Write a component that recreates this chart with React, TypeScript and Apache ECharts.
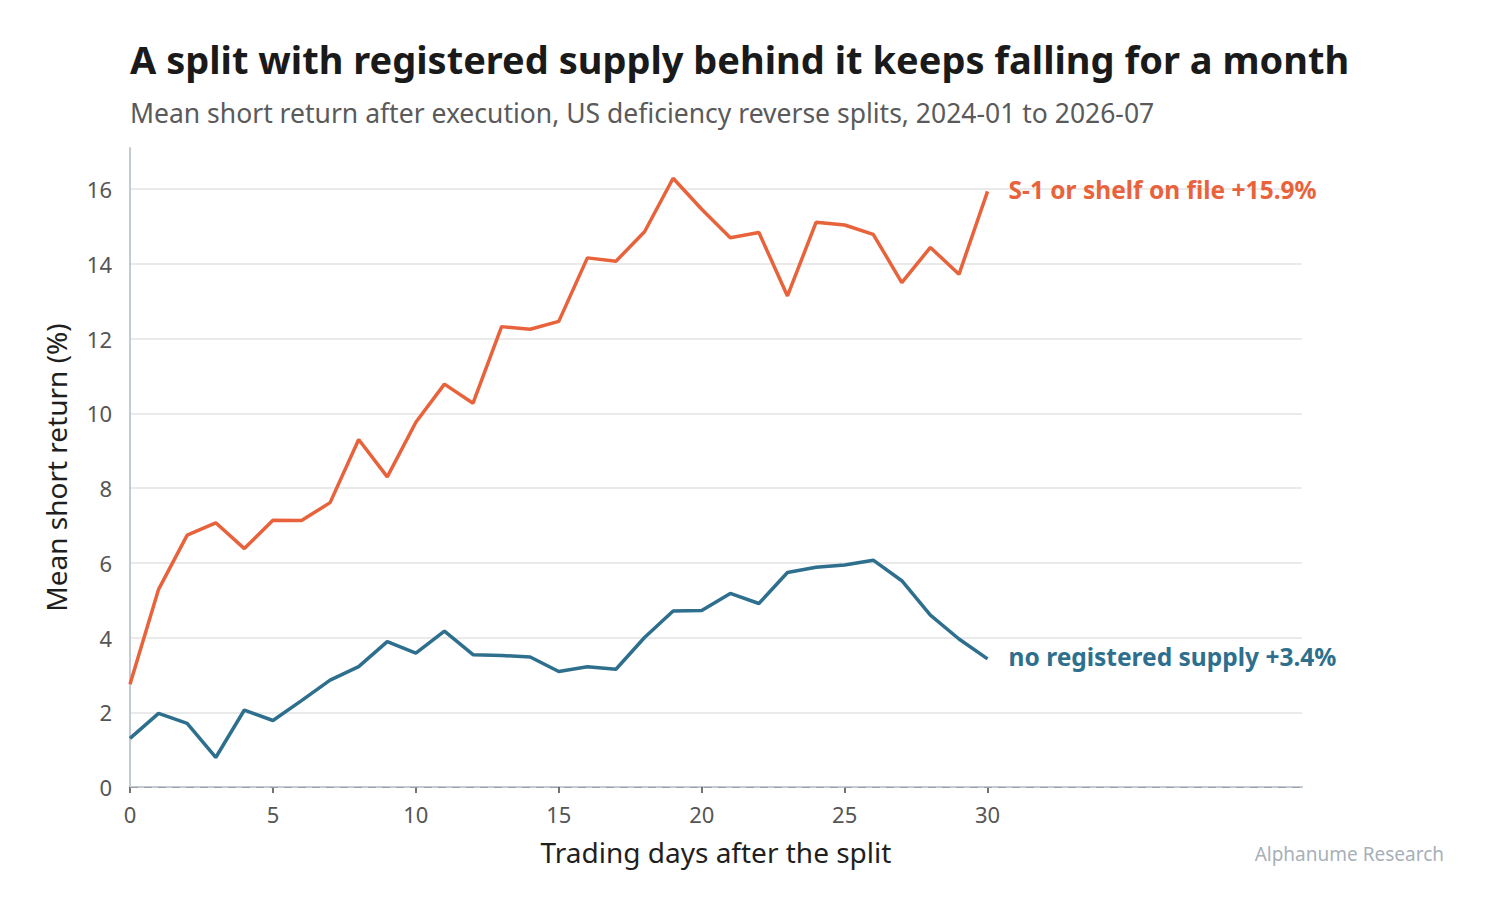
import React, { useEffect, useRef } from "react";
import * as echarts from "echarts";

const days = [0,1,2,3,4,5,6,7,8,9,10,11,12,13,14,15,16,17,18,19,20,21,22,23,24,25,26,27,28,29,30];
const shelfReturns = [2.75,5.29,6.74,7.07,6.38,7.14,7.13,7.61,9.30,8.30,9.76,10.78,10.27,12.32,12.25,12.46,14.16,14.07,14.86,16.29,15.46,14.70,14.84,13.14,15.11,15.04,14.79,13.50,14.44,13.72,15.94];
const noSupplyReturns = [1.30,1.97,1.70,0.79,2.06,1.78,2.31,2.86,3.22,3.89,3.58,4.17,3.54,3.52,3.48,3.09,3.22,3.15,4.00,4.71,4.72,5.18,4.91,5.74,5.88,5.94,6.07,5.52,4.60,3.96,3.43];
const xTickValues = [0,5,10,15,20,25,30];
const seriesNames = ["S-1 or shelf on file", "no registered supply"];

const FONT = "'Noto Sans', 'Open Sans', sans-serif";
const ORANGE = "#E8633B";
const BLUE = "#2E6F8E";

export default function App() {
  const ref = useRef<HTMLDivElement>(null);
  useEffect(() => {
    document.body.style.margin = "0";
    const chart = echarts.init(ref.current!, null, { renderer: "svg" });
    const mk = (name: string, data: number[], color: string) => ({
      name,
      type: "line",
      data: days.map((d, i) => [d, data[i]]),
      showSymbol: false,
      symbol: "none",
      lineStyle: { color, width: 3.5 },
      itemStyle: { color },
      endLabel: {
        show: true,
        distance: 21,
        offset: [0, -2],
        formatter: (p: any) => `${name} +${p.value[1].toFixed(1)}%`,
        color,
        fontFamily: FONT,
        fontWeight: "bold",
        fontSize: 24.5,
      },
    });
    chart.setOption({
      animation: false,
      backgroundColor: "#ffffff",
      grid: { left: 130, right: 188, top: 148, bottom: 127, containLabel: false },
      xAxis: {
        type: "value",
        min: 0,
        max: 41,
        interval: 5,
        name: "Trading days after the split",
        nameLocation: "middle",
        nameGap: 51,
        nameTextStyle: { fontFamily: FONT, fontSize: 28, color: "#1f1f1f" },
        axisLine: { show: true, lineStyle: { color: "#c3cad2", width: 2 } },
        axisTick: { show: true, customValues: xTickValues, length: 6, lineStyle: { color: "#444", width: 1.5 } },
        axisLabel: { customValues: xTickValues, fontFamily: FONT, fontSize: 22, color: "#555", margin: 16 },
        splitLine: { show: false },
      },
      yAxis: {
        type: "value",
        min: 0,
        max: 17.1,
        interval: 2,
        name: "Mean short return (%)",
        nameLocation: "middle",
        nameGap: 60,
        nameTextStyle: { fontFamily: FONT, fontSize: 28, color: "#1f1f1f" },
        axisLine: { show: true, lineStyle: { color: "#c3cad2", width: 2 } },
        axisTick: { show: false },
        axisLabel: { showMaxLabel: false, fontFamily: FONT, fontSize: 22, color: "#555", margin: 18 },
        splitLine: { show: true, showMinLine: false, showMaxLine: false, lineStyle: { color: "#e3e3e3", width: 1.5 } },
      },
      series: [
        {
          ...mk(seriesNames[0], shelfReturns, ORANGE),
          markLine: {
            silent: true,
            symbol: "none",
            label: { show: false },
            lineStyle: { color: "#9aa0a6", type: [8, 6], width: 1.2 },
            data: [{ yAxis: 0 }],
          },
        },
        mk(seriesNames[1], noSupplyReturns, BLUE),
      ],
      graphic: [
        {
          type: "text",
          left: 130,
          top: 40,
          style: {
            text: "A split with registered supply behind it keeps falling for a month",
            fontFamily: FONT,
            fontWeight: "bold",
            fontSize: 38,
            fill: "#1a1a1a",
          },
        },
        {
          type: "text",
          left: 130,
          top: 99,
          style: {
            text: "Mean short return after execution, US deficiency reverse splits, 2024-01 to 2026-07",
            fontFamily: FONT,
            fontSize: 26.5,
            fill: "#5a5a5a",
          },
        },
        {
          type: "text",
          right: 46,
          top: 844,
          style: {
            text: "Alphanume Research",
            fontFamily: FONT,
            fontSize: 19,
            fill: "#a8b0b8",
          },
        },
      ],
    });
    return () => chart.dispose();
  }, []);
  return <div ref={ref} style={{ position: "absolute", left: 0, top: 0, width: 1490, height: 914 }} />;
}
